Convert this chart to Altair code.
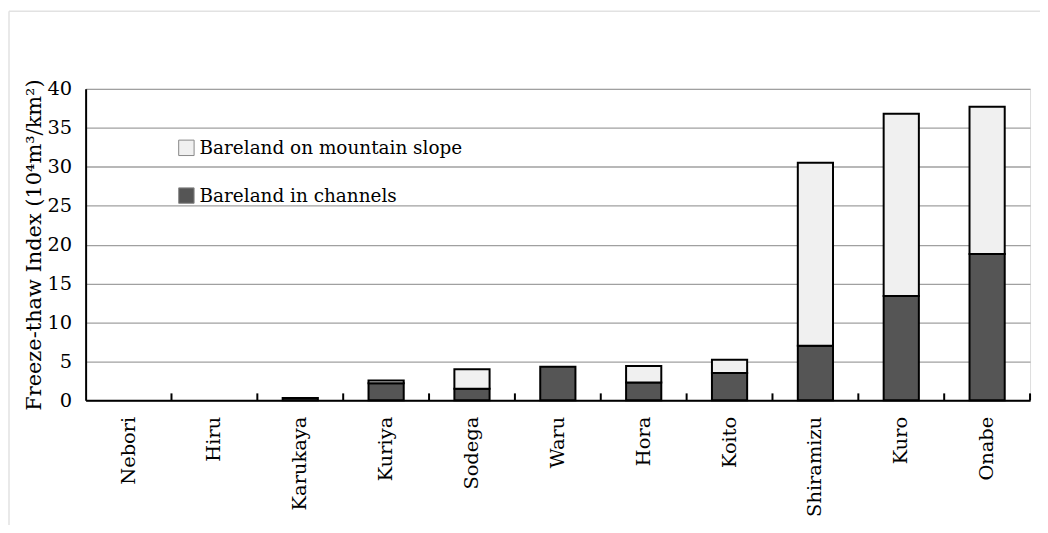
import altair as alt
import pandas as pd

sites = ["Nebori", "Hiru", "Karukaya", "Kuriya", "Sodega", "Waru", "Hora",
         "Koito", "Shiramizu", "Kuro", "Onabe"]
channels = [0.0, 0.0, 0.3, 2.2, 1.5, 4.3, 2.3, 3.5, 7.0, 13.4, 18.8]
slope = [0.0, 0.0, 0.0, 0.35, 2.5, 0.0, 2.1, 1.7, 23.5, 23.4, 18.9]

series_names = ["Bareland on mountain slope", "Bareland in channels"]
series_fill = ["#f0f0f0", "#555555"]

rows = []
for s, c, sl in zip(sites, channels, slope):
    rows.append({"site": s, "series": series_names[1], "value": c, "order": 0})
    rows.append({"site": s, "series": series_names[0], "value": sl, "order": 1})
df = pd.DataFrame(rows)
sites_df = pd.DataFrame({"site": sites})
frame_df = pd.DataFrame({"k": [0]})

FONT = "DejaVu Serif"

x_enc = alt.X("site:N", title=None,
              scale=alt.Scale(domain=sites, paddingInner=0.59, paddingOuter=0.295),
              axis=alt.Axis(labelAngle=-90, labelAlign="right", labelBaseline="middle",
                            labelPadding=16, ticks=False, domainColor="black",
                            domainWidth=2, labelFont=FONT, labelFontSize=19.5,
                            labelColor="black"))

bars = alt.Chart(df).mark_bar(stroke="black", strokeWidth=2).encode(
    x=x_enc,
    y=alt.Y("sum(value):Q", title="Freeze-thaw Index (10⁴m³/km²)",
            scale=alt.Scale(domain=[0, 40]),
            axis=alt.Axis(values=[0, 5, 10, 15, 20, 25, 30, 35, 40], ticks=False,
                          domainColor="black", domainWidth=2, gridColor="#a0a0a0",
                          gridWidth=1.3, labelFont=FONT, labelFontSize=19.5,
                          labelColor="black", labelPadding=14, titleFont=FONT,
                          titleFontSize=21, titleFontWeight="normal",
                          titleColor="black", titlePadding=3)),
    color=alt.Color("series:N",
                    scale=alt.Scale(domain=series_names, range=series_fill),
                    legend=alt.Legend(title=None, orient="none", legendX=92, legendY=50,
                                      symbolType="square", symbolSize=240,
                                      symbolStrokeColor="#888888", symbolStrokeWidth=1,
                                      labelFont=FONT, labelFontSize=18.5, labelLimit=0,
                                      labelColor="black", labelOffset=4,
                                      rowPadding=28)),
    order=alt.Order("order:Q", sort="ascending"),
).transform_filter(alt.datum.value > 0)

ticks = alt.Chart(sites_df).mark_rule(color="black", strokeWidth=2).encode(
    x=alt.X("site:N", bandPosition=1,
            scale=alt.Scale(domain=sites, paddingInner=0, paddingOuter=0), axis=None),
    y=alt.value(313),
    y2=alt.value(306),
)

frame_top = alt.Chart(frame_df).mark_rule(color="#e2e2e2", strokeWidth=1.5).encode(
    x=alt.value(-77), x2=alt.value(962), y=alt.value(-78)
)
frame_left = alt.Chart(frame_df).mark_rule(color="#e2e2e2", strokeWidth=1.5).encode(
    x=alt.value(-77), y=alt.value(-78), y2=alt.value(445)
)

chart = alt.layer(bars, ticks, frame_top, frame_left).resolve_scale(x="independent").properties(
    width=949, height=313,
    autosize=alt.AutoSizeParams(type="none"),
    padding={"left": 78, "top": 80, "right": 10, "bottom": 124},
).configure_view(stroke=None).configure(background="white")

chart.save("out.html", embed_options={"renderer": "svg", "actions": False})
